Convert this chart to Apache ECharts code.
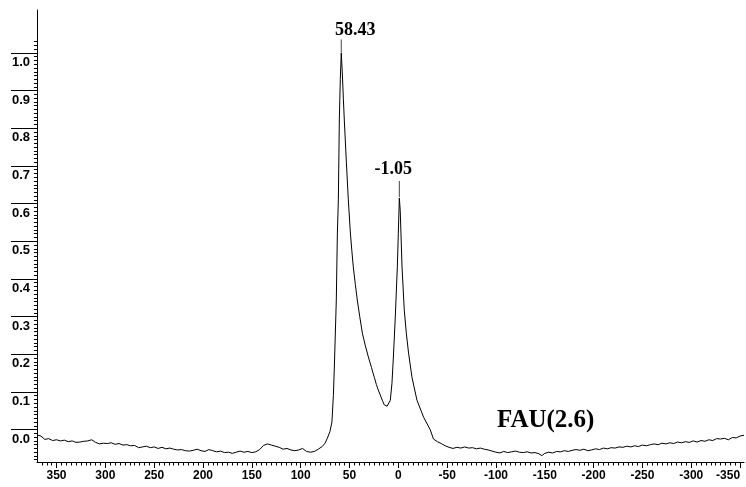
<!DOCTYPE html>
<html>
<head>
<meta charset="utf-8">
<script src="https://cdn.jsdelivr.net/npm/echarts@6/dist/echarts.min.js"></script>
<style>
  html, body { margin: 0; padding: 0; background: #fff; }
  #chart { width: 746px; height: 487px; }
</style>
</head>
<body>
<div id="chart"></div>
<script>
// Chemical shift (ppm) and normalised intensity of the spectrum trace
const shiftPpm = [
  370, 366, 362, 358, 354, 350, 346, 342, 338, 334, 330, 326, 322, 318, 314, 310, 306, 302, 298, 294,
  290, 286, 282, 278, 274, 270, 266, 262, 258, 254, 250, 246, 242, 238, 234, 230, 226, 222, 218, 214,
  210, 206, 202, 198, 194, 190, 186, 182, 178, 174, 170, 166, 162, 158, 154, 150, 146, 142, 138, 134,
  130, 126, 122, 118, 114, 110, 106, 102, 98, 94, 90, 86, 82, 78, 75, 72.7, 70, 68, 66.5, 65.5,
  63.5, 62.4, 61.4, 60.4, 59.4, 58.43, 57.4, 56.3, 55.3, 53.2, 51.2, 49.1, 47.6, 46.1, 44, 42, 39.5, 36.8, 34, 30.7,
  27.5, 24.6, 22.5, 20.5, 18.5, 16.4, 14.5, 13.3, 11.5, 10, 8.2, 6.5, 5.1, 3.1, 1.0, 0, -1.05, -2, -3.8, -6.1,
  -8.2, -10.5, -14, -19.1, -25.9, -32.8, -36, -40, -44, -48, -52, -56, -60, -64, -68, -72, -76, -80, -84, -88,
  -92, -96, -100, -104, -108, -112, -116, -120, -124, -128, -132, -136, -140, -144, -147, -150, -154, -158, -162, -166,
  -170, -174, -178, -182, -186, -190, -194, -198, -202, -206, -210, -214, -218, -222, -226, -230, -234, -238, -242, -246,
  -250, -254, -258, -262, -266, -270, -274, -278, -282, -286, -290, -294, -298, -302, -306, -310, -314, -318, -322, -326,
  -330, -334, -338, -342, -346, -350, -354
];
const intensity = [
  -0.014, -0.017, -0.026, -0.024, -0.029, -0.027, -0.030, -0.028, -0.032, -0.030, -0.034, -0.033, -0.031, -0.030, -0.027, -0.034, -0.038, -0.036, -0.037, -0.035,
  -0.039, -0.037, -0.041, -0.040, -0.043, -0.042, -0.048, -0.046, -0.044, -0.048, -0.046, -0.050, -0.047, -0.051, -0.049, -0.052, -0.054, -0.053, -0.056, -0.057,
  -0.055, -0.052, -0.056, -0.058, -0.053, -0.056, -0.059, -0.057, -0.061, -0.060, -0.063, -0.060, -0.057, -0.060, -0.058, -0.061, -0.059, -0.053, -0.042, -0.038,
  -0.041, -0.044, -0.047, -0.052, -0.050, -0.054, -0.056, -0.054, -0.050, -0.058, -0.060, -0.058, -0.052, -0.045, -0.036, -0.023, -0.005, 0.020, 0.090, 0.166,
  0.344, 0.522, 0.610, 0.822, 0.930, 1.000, 0.950, 0.880, 0.822, 0.710, 0.610, 0.522, 0.475, 0.432, 0.385, 0.344, 0.300, 0.256, 0.225, 0.193,
  0.165, 0.139, 0.120, 0.105, 0.092, 0.078, 0.066, 0.062, 0.062, 0.066, 0.078, 0.123, 0.190, 0.299, 0.432, 0.520, 0.615, 0.580, 0.432, 0.317,
  0.256, 0.203, 0.139, 0.078, 0.033, -0.001, -0.025, -0.032, -0.037, -0.043, -0.047, -0.050, -0.047, -0.049, -0.046, -0.049, -0.048, -0.051, -0.049, -0.052,
  -0.054, -0.057, -0.060, -0.062, -0.058, -0.061, -0.059, -0.057, -0.060, -0.061, -0.059, -0.062, -0.061, -0.064, -0.069, -0.063, -0.060, -0.062, -0.058, -0.059,
  -0.056, -0.058, -0.055, -0.053, -0.055, -0.052, -0.056, -0.054, -0.051, -0.053, -0.049, -0.051, -0.048, -0.049, -0.046, -0.047, -0.044, -0.046, -0.043, -0.045,
  -0.041, -0.043, -0.040, -0.038, -0.040, -0.036, -0.038, -0.035, -0.037, -0.033, -0.035, -0.032, -0.034, -0.030, -0.033, -0.029, -0.031, -0.027, -0.029, -0.024,
  -0.025, -0.023, -0.027, -0.021, -0.022, -0.017, -0.015
];

// Labelled peak maxima
const peakPpm = [58.43, -1.05];
const peakIntensity = [1.0, 0.615];
const peakText = ['58.43', '-1.05'];

// Axis tick values
const xMajorTicks = [350, 300, 250, 200, 150, 100, 50, 0, -50, -100, -150, -200, -250, -300, -350];
const yMajorTicks = [0.0, 0.1, 0.2, 0.3, 0.4, 0.5, 0.6, 0.7, 0.8, 0.9, 1.0];
const sampleName = 'FAU(2.6)';

const X_MIN = -354, X_MAX = 370;
const Y_MIN = -0.086, Y_MAX = 1.114;

const xMinorTicks = [];
for (let v = 365; v >= -350; v -= 5) xMinorTicks.push(v);
const yMinorTicks = [];
for (let i = -8; i <= 103; i++) yMinorTicks.push(+(i / 100).toFixed(2));

const seriesData = shiftPpm.map((p, i) => [p, intensity[i]]);

const sansBold = { fontFamily: 'Liberation Sans, Arial, sans-serif', fontWeight: 'bold', color: '#000' };
const serifBold = 'Liberation Serif, Times New Roman, serif';

const chart = echarts.init(document.getElementById('chart'), null, { renderer: 'canvas' });
chart.setOption({
  animation: false,
  backgroundColor: '#fff',
  grid: { left: 37, right: 2, top: 10, bottom: 25, containLabel: false, outerBoundsMode: 'none' },
  xAxis: [
    {
      type: 'value', inverse: true, min: X_MIN, max: X_MAX, position: 'bottom',
      axisLine: { show: true, onZero: false, lineStyle: { color: '#000', width: 1 } },
      axisTick: { show: true, length: 6, customValues: xMajorTicks, lineStyle: { color: '#000', width: 1 } },
      axisLabel: Object.assign({
        customValues: xMajorTicks, margin: 8, hideOverlap: false, fontSize: 12,
        // the last label at the right end is kept inside the frame
        formatter: v => (v === xMajorTicks[xMajorTicks.length - 1] ? '{edge|' + v + '}' : String(v)),
        rich: { edge: Object.assign({ fontSize: 12, padding: [0, 24, 0, 0] }, sansBold) }
      }, sansBold),
      splitLine: { show: false }
    },
    {
      type: 'value', inverse: true, min: X_MIN, max: X_MAX, position: 'bottom',
      axisLine: { show: false, onZero: false },
      axisTick: { show: true, length: 3.5, customValues: xMinorTicks, lineStyle: { color: '#000', width: 1 } },
      axisLabel: { show: false },
      splitLine: { show: false }
    }
  ],
  yAxis: [
    {
      type: 'value', min: Y_MIN, max: Y_MAX, position: 'left',
      axisLine: { show: true, onZero: false, lineStyle: { color: '#000', width: 1 } },
      axisTick: { show: true, length: 26, customValues: yMajorTicks, lineStyle: { color: '#000', width: 1 } },
      axisLabel: Object.assign({
        customValues: yMajorTicks, margin: 7, verticalAlign: 'top', lineHeight: 15, padding: [2, 0, 0, 0],
        fontSize: 13, formatter: v => v.toFixed(1)
      }, sansBold),
      splitLine: { show: false }
    },
    {
      type: 'value', min: Y_MIN, max: Y_MAX, position: 'left',
      axisLine: { show: false, onZero: false },
      axisTick: { show: true, length: 3, customValues: yMinorTicks, lineStyle: { color: '#000', width: 1 } },
      axisLabel: { show: false },
      splitLine: { show: false }
    }
  ],
  series: [
    {
      type: 'line',
      xAxisIndex: 0, yAxisIndex: 0,
      data: seriesData,
      showSymbol: false,
      smooth: false,
      lineStyle: { color: '#000', width: 1 },
      markPoint: {
        symbol: 'rect',
        itemStyle: { color: '#444' },
        label: {
          show: true, position: 'top',
          fontFamily: serifBold, fontWeight: 'bold', fontSize: 18, color: '#000'
        },
        data: [
          {
            coord: [peakPpm[0], peakIntensity[0]], value: peakText[0],
            symbolSize: [1, 13], symbolOffset: [0, -7],
            label: { distance: 0, offset: [14, 0], formatter: peakText[0] }
          },
          {
            coord: [peakPpm[1], peakIntensity[1]], value: peakText[1],
            symbolSize: [1, 16], symbolOffset: [0, -9],
            label: { distance: 3, offset: [-6, 0], formatter: peakText[1] }
          }
        ]
      }
    }
  ],
  graphic: [
    {
      type: 'text', left: 497, top: 408,
      style: {
        text: sampleName,
        font: 'bold 25px "Liberation Serif", "Times New Roman", serif',
        fill: '#000'
      }
    }
  ]
});
</script>
</body>
</html>
